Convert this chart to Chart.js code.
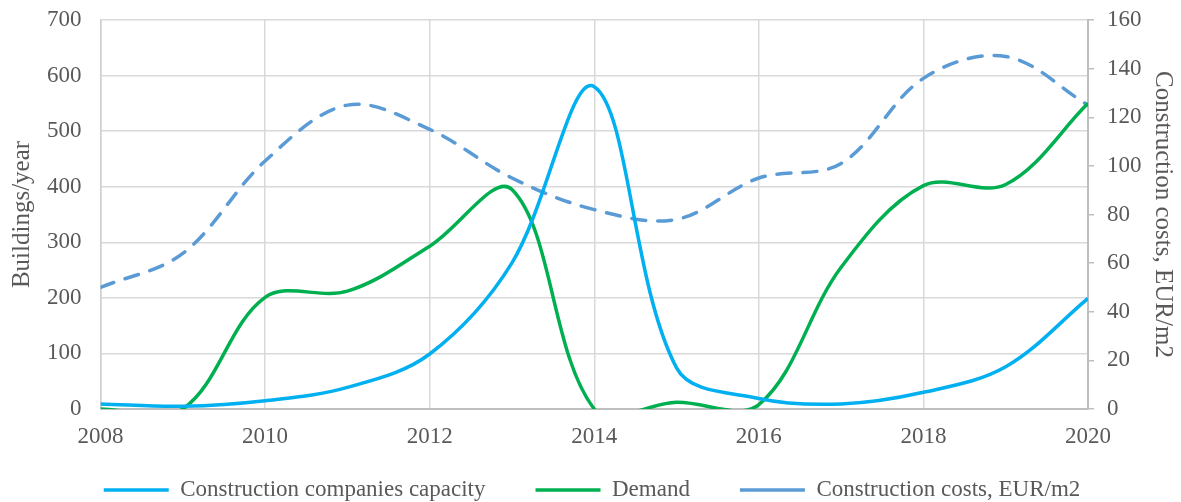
<!DOCTYPE html>
<html>
<head>
<meta charset="utf-8">
<script src="https://cdn.jsdelivr.net/npm/chart.js@4.4.1/dist/chart.umd.min.js"></script>
<style>
  html, body { margin: 0; padding: 0; background: #fff; }
  #wrap { width: 1181px; height: 502px; }
</style>
</head>
<body>
<div id="wrap"><canvas id="chart"></canvas></div>
<script>
// values
const years = [2008, 2009, 2010, 2011, 2012, 2013, 2014, 2015, 2016, 2017, 2018, 2019, 2020];
const capacity = [9, 5, 15, 39, 99, 263, 580, 74, 19, 9, 30, 76, 199];
const demand = [0, 0, 201, 212, 293, 395, 0, 12, 8, 255, 402, 404, 550];
const costs = [50, 64, 102, 125, 115, 95, 82, 78, 95, 101, 136, 145, 125];

const textColor = "#595959";
const gridColor = "#d9d9d9";
const serif = "'Liberation Serif', 'DejaVu Serif', serif";

const toPoints = (vals) => years.map((yr, i) => ({ x: yr, y: vals[i] }));

// the legend keeps wide gaps between items, so pull it up a bit after layout
const legendLift = {
  id: "legendLift",
  afterLayout(chart) {
    chart.legend.top -= 22.5;
    chart.legend.bottom -= 22.5;
  },
};

new Chart(document.getElementById("chart"), {
  type: "line",
  data: {
    datasets: [
      {
        label: "Construction companies capacity",
        data: toPoints(capacity),
        borderColor: "#00b0f0",
        borderWidth: 3.5,
        yAxisID: "y",
      },
      {
        label: "Demand",
        data: toPoints(demand),
        borderColor: "#00b050",
        borderWidth: 3.5,
        yAxisID: "y",
      },
      {
        label: "Construction costs, EUR/m2",
        data: toPoints(costs),
        borderColor: "#5b9bd5",
        borderWidth: 3.5,
        borderDash: [14, 12],
        borderCapStyle: "round",
        yAxisID: "y1",
      },
    ],
  },
  plugins: [legendLift],
  options: {
    responsive: true,
    maintainAspectRatio: false,
    animation: false,
    layout: { padding: { left: 4, right: 1, top: 6, bottom: -32 } },
    elements: {
      point: { radius: 0 },
      line: { tension: 0.35, capBezierPoints: false, fill: false },
    },
    plugins: {
      tooltip: { enabled: false },
      legend: {
        position: "bottom",
        labels: {
          usePointStyle: true,
          pointStyle: "line",
          pointStyleWidth: 65,
          padding: 50,
          color: textColor,
          font: { family: serif, size: 23 },
        },
      },
    },
    scales: {
      x: {
        type: "linear",
        min: 2008,
        max: 2020,
        ticks: {
          stepSize: 2,
          padding: 14,
          color: textColor,
          font: { family: serif, size: 23 },
          callback: (v) => String(v),
        },
        grid: { color: gridColor, lineWidth: 1.5, drawTicks: false },
        border: { color: "#bfbfbf", width: 2 },
        afterFit: (scale) => { scale.height = 42; },
      },
      y: {
        position: "left",
        min: 0,
        max: 700,
        ticks: {
          stepSize: 100,
          padding: 19,
          color: textColor,
          font: { family: serif, size: 23 },
        },
        grid: { color: gridColor, lineWidth: 1.5, drawTicks: false },
        border: { color: "#cfcfcf", width: 1.5 },
        title: {
          display: true,
          text: "Buildings/year",
          color: textColor,
          font: { family: serif, size: 25 },
          padding: { top: 3, bottom: 0 },
        },
        afterFit: (scale) => {
          scale.width = 96.5;
          scale.paddingTop = 20;
          scale.paddingBottom = 14;
        },
      },
      y1: {
        position: "right",
        min: 0,
        max: 160,
        ticks: {
          stepSize: 20,
          padding: 13,
          color: textColor,
          font: { family: serif, size: 23 },
        },
        grid: { drawOnChartArea: false, drawTicks: true, tickLength: 6, color: "#bfbfbf", lineWidth: 1.5 },
        border: { color: "#bfbfbf", width: 2 },
        title: {
          display: true,
          text: "Construction costs, EUR/m2",
          color: textColor,
          font: { family: serif, size: 25 },
          padding: { top: 2, bottom: 0 },
        },
        afterFit: (scale) => {
          scale.width = 92;
          scale.paddingTop = 20;
          scale.paddingBottom = 14;
        },
      },
    },
  },
});
</script>
</body>
</html>
